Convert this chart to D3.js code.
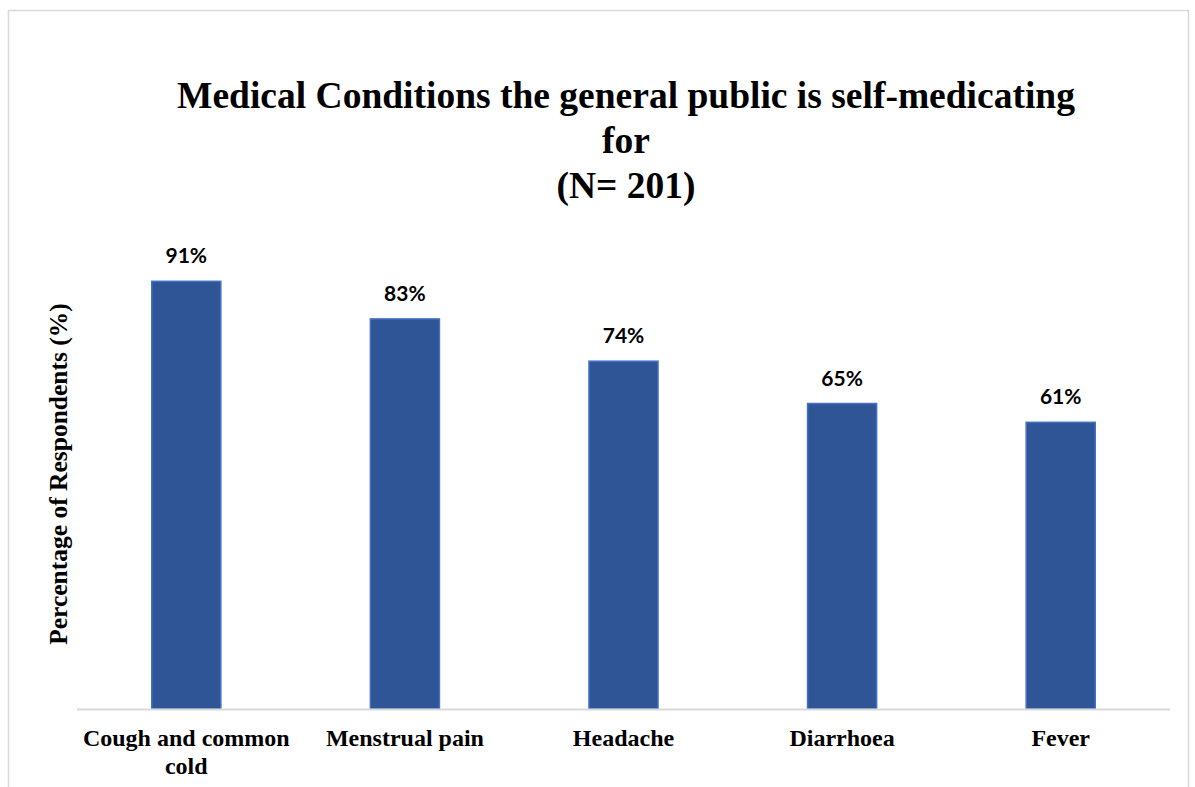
<!DOCTYPE html>
<html>
<head>
<meta charset="utf-8">
<script src="https://cdn.jsdelivr.net/npm/d3@7"></script>
<style>
  html, body { margin: 0; padding: 0; background: #fff; }
  svg { display: block; }
</style>
</head>
<body>
<svg id="chart" width="1195" height="787"></svg>
<script>
// Medical conditions respondents self-medicate for
const categories = ["Cough and common cold", "Menstrual pain", "Headache", "Diarrhoea", "Fever"];
const categoryLines = [["Cough and common", "cold"], ["Menstrual pain"], ["Headache"], ["Diarrhoea"], ["Fever"]];
const percentages = [91, 83, 74, 65, 61];
const titleLines = ["Medical Conditions the general public is self-medicating", "for", "(N= 201)"];
const yAxisTitle = "Percentage of Respondents (%)";

const svg = d3.select("#chart");
const W = 1195, H = 787;
const serif = "'Liberation Serif', 'Times New Roman', serif";

// Chart frame
svg.append("rect")
  .attr("x", 8.5).attr("y", 10.5)
  .attr("width", 1180).attr("height", H)
  .attr("fill", "#fff")
  .attr("stroke", "#d9d9d9").attr("stroke-width", 1.5);

const plot = { left: 77, right: 1170, top: 239, bottom: 709 };

const x = d3.scaleBand()
  .domain(categories)
  .range([plot.left, plot.right])
  .paddingInner(0.684)
  .paddingOuter(0.342);

const y = d3.scaleLinear()
  .domain([0, 100])
  .range([plot.bottom, plot.top]);

// Title
const title = svg.append("text")
  .attr("text-anchor", "middle")
  .attr("font-family", serif)
  .attr("font-weight", "bold")
  .attr("font-size", 37.5)
  .attr("fill", "#000");
titleLines.forEach((t, i) => {
  title.append("tspan").attr("x", 626).attr("y", 108 + i * 45).text(t);
});

// Bars
svg.append("g").selectAll("rect")
  .data(percentages)
  .join("rect")
  .attr("x", (d, i) => x(categories[i]))
  .attr("y", d => y(d))
  .attr("width", x.bandwidth())
  .attr("height", d => y(0) - y(d))
  .attr("fill", "#2f5597")
  .attr("stroke", "#4472c4")
  .attr("stroke-width", 1.5);

// Value labels
svg.append("g").selectAll("text")
  .data(percentages)
  .join("text")
  .attr("x", (d, i) => x(categories[i]) + x.bandwidth() / 2)
  .attr("y", d => y(d) - 18)
  .attr("text-anchor", "middle")
  .attr("font-family", "Lato, 'Open Sans', sans-serif")
  .attr("font-weight", "bold")
  .attr("font-size", 21)
  .attr("fill", "#000")
  .text(d => d + "%");

// Category axis
const xAxis = svg.append("g")
  .attr("transform", `translate(0,${plot.bottom})`)
  .call(d3.axisBottom(x).tickSize(0).tickFormat(""));
xAxis.select(".domain")
  .attr("d", `M${plot.left},0.5H${plot.right}`)
  .attr("stroke", "#d9d9d9").attr("stroke-width", 2);

const catLabels = svg.append("g")
  .attr("font-family", serif)
  .attr("font-weight", "bold")
  .attr("font-size", 24)
  .attr("fill", "#000")
  .attr("text-anchor", "middle");
categories.forEach((c, i) => {
  const t = catLabels.append("text");
  categoryLines[i].forEach((line, j) => {
    t.append("tspan")
      .attr("x", x(c) + x.bandwidth() / 2)
      .attr("y", 746 + j * 28)
      .text(line);
  });
});

// Y axis title
svg.append("text")
  .attr("transform", `translate(67,474) rotate(-90)`)
  .attr("text-anchor", "middle")
  .attr("font-family", serif)
  .attr("font-weight", "bold")
  .attr("font-size", 25.5)
  .attr("fill", "#000")
  .text(yAxisTitle);
</script>
</body>
</html>
